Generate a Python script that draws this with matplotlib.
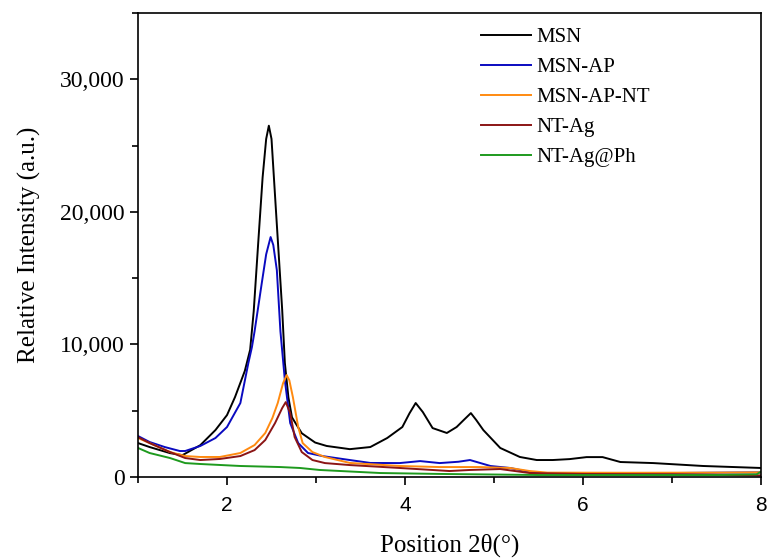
import matplotlib as mpl
mpl.use('Agg')
import matplotlib.pyplot as plt
from matplotlib.ticker import MultipleLocator, FuncFormatter

mpl.rcParams['font.family'] = 'serif'
mpl.rcParams['font.serif'] = ['Liberation Serif', 'DejaVu Serif']

# ---------------- data ----------------
labels = ['MSN', 'MSN-AP', 'MSN-AP-NT', 'NT-Ag', 'NT-Ag@Ph']

x_msn = [1.0, 1.13, 1.36, 1.5, 1.7, 1.87, 2.0, 2.09, 2.2, 2.26, 2.3, 2.35, 2.4, 2.44,
         2.47, 2.5, 2.55, 2.62, 2.65, 2.69, 2.73, 2.84, 2.99, 3.12, 3.38, 3.61, 3.8,
         3.97, 4.05, 4.12, 4.2, 4.31, 4.47, 4.58, 4.66, 4.74, 4.8, 4.88, 5.07, 5.29,
         5.48, 5.66, 5.85, 6.04, 6.22, 6.42, 6.79, 7.35, 8.0]
y_msn = [2560, 2260, 1800, 1650, 2400, 3540, 4670, 6030, 8000, 9600, 12500, 17600,
         22600, 25500, 26500, 25500, 20100, 12600, 8600, 6000, 4500, 3300, 2600, 2340,
         2100, 2260, 2940, 3770, 4800, 5580, 4900, 3690, 3320, 3770, 4300, 4820, 4300,
         3540, 2190, 1510, 1280, 1280, 1350, 1500, 1500, 1130, 1050, 830, 680]

x_ap = [1.0, 1.13, 1.3, 1.47, 1.53, 1.7, 1.87, 2.0, 2.15, 2.24, 2.28, 2.31, 2.35,
        2.39, 2.44, 2.49, 2.52, 2.56, 2.6, 2.65, 2.71, 2.8, 2.91, 3.07, 3.38, 3.61,
        3.94, 4.17, 4.39, 4.6, 4.73, 4.96, 5.18, 5.46, 6.0, 7.0, 8.0]
y_ap = [3090, 2640, 2260, 1960, 1960, 2340, 2940, 3770, 5580, 8600, 9800, 11000,
        12800, 14600, 16800, 18100, 17500, 15600, 11000, 7300, 4070, 2560, 1810, 1580,
        1280, 1060, 1050, 1200, 1050, 1150, 1280, 830, 680, 300, 280, 300, 350]

x_nt = [1.0, 1.13, 1.36, 1.53, 1.7, 1.92, 2.15, 2.31, 2.43, 2.51, 2.57, 2.63, 2.67,
        2.7, 2.74, 2.8, 2.85, 2.96, 3.1, 3.38, 3.94, 4.39, 4.84, 5.18, 5.4, 5.6, 6.5,
        7.5, 8.0]
y_nt = [2940, 2560, 1880, 1580, 1510, 1510, 1810, 2410, 3320, 4450, 5580, 7080, 7690,
        7300, 6030, 3770, 2560, 1880, 1510, 1060, 830, 750, 750, 680, 450, 330, 320,
        330, 350]

x_ag = [1.0, 1.13, 1.36, 1.53, 1.7, 1.92, 2.15, 2.31, 2.43, 2.54, 2.62, 2.66, 2.71,
        2.76, 2.84, 2.96, 3.1, 3.38, 3.94, 4.5, 4.73, 5.07, 5.4, 6.0, 7.0, 8.0]
y_ag = [3010, 2560, 1880, 1430, 1280, 1360, 1580, 2030, 2790, 4070, 5200, 5650, 4820,
        3010, 1880, 1280, 1050, 900, 680, 450, 530, 600, 300, 230, 200, 120]

x_ph = [1.0, 1.13, 1.36, 1.53, 1.7, 2.15, 2.6, 2.82, 3.04, 3.72, 4.39, 5.5, 6.5, 7.5,
        7.95, 8.0]
y_ph = [2190, 1810, 1430, 1050, 980, 830, 750, 680, 530, 300, 230, 150, 150, 150,
        200, 400]

colores = ['black', '#0a0ac0', '#ff8a10', '#8b1515', '#1e9a1e']

# ---------------- figure ----------------
fig = plt.figure(figsize=(7.68, 5.59), dpi=100)
ax = fig.add_axes([0.1797, 0.1467, 0.8112, 0.83])

series = [(x_msn, y_msn), (x_ap, y_ap), (x_nt, y_nt), (x_ag, y_ag), (x_ph, y_ph)]
for (xs, ys), lab, c in zip(series, labels, colores):
    ax.plot(xs, ys, color=c, lw=1.4, label=lab)

ax.set_xlim(1, 8)
ax.set_ylim(0, 35000)
ax.xaxis.set_major_locator(MultipleLocator(2))
ax.xaxis.set_minor_locator(MultipleLocator(1))
ax.yaxis.set_major_locator(MultipleLocator(10000))
ax.yaxis.set_minor_locator(MultipleLocator(5000))
ax.yaxis.set_major_formatter(FuncFormatter(lambda v, p: '{:,.0f}'.format(v)))
ax.tick_params(which='major', direction='out', length=6, width=1.2)
ax.tick_params(which='minor', direction='out', length=4, width=1.2)
ax.tick_params(axis='y', labelsize=17)
ax.tick_params(axis='x', labelsize=15, pad=8)
for t in ax.get_xticklabels():
    t.set_fontfamily('Liberation Sans')
for s in ax.spines.values():
    s.set_linewidth(1.2)

ax.set_xlabel('Position 2\u03b8(\u00b0)', fontsize=18, labelpad=13)
ax.set_ylabel('Relative Intensity (a.u.)', fontsize=18, labelpad=14)

ax.legend(loc='upper left', bbox_to_anchor=(0.52, 1.009), frameon=False, fontsize=15,
          handlelength=2.4, handletextpad=0.25, labelspacing=0.5)

plt.savefig('out.png', dpi=100)
